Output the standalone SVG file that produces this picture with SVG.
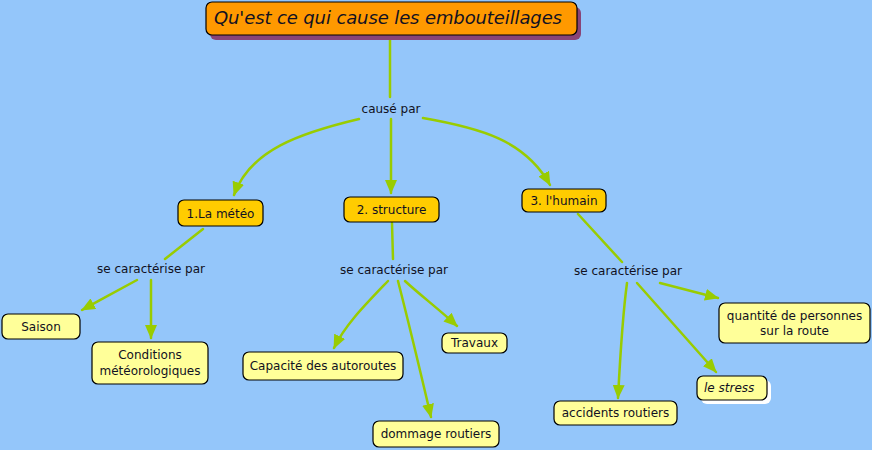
<svg xmlns="http://www.w3.org/2000/svg" width="872" height="450" viewBox="0 0 872 450">
<defs>
<marker id="ah" markerUnits="userSpaceOnUse" markerWidth="14" markerHeight="12" refX="13" refY="6" orient="auto">
<path d="M0,0 L14,6 L0,12 z" fill="#99CC00"/>
</marker>
<style>
text{font-family:"DejaVu Sans","Liberation Sans",sans-serif;font-size:12px;fill:#111122}
.c{fill:none;stroke:#99CC00;stroke-width:2.5;stroke-linecap:round}
.a{marker-end:url(#ah)}
.y{fill:#FFFF99;stroke:#000;stroke-width:1.2}
.o{fill:#FFCC00;stroke:#000;stroke-width:1.2}
.m{text-anchor:middle}
</style>
</defs>
<rect width="872" height="450" fill="#94C6FA"/>
<g id="connectors">
<path class="c" d="M390,35 L390,97"/>
<path class="c a" d="M359,119 C300,133 250,150 234,195"/>
<path class="c a" d="M391,119 L391,193"/>
<path class="c a" d="M423,118 C480,128 525,140 550,185"/>
<path class="c" d="M203,229 L165,259"/>
<path class="c a" d="M137,280 C115,292 100,300 82,310"/>
<path class="c a" d="M151,280 L151,338"/>
<path class="c" d="M392,223 L393,259"/>
<path class="c a" d="M388,281 C365,305 345,325 334,348"/>
<path class="c a" d="M398,281 C408,320 420,370 431,417"/>
<path class="c a" d="M405,281 C420,295 440,310 457,326"/>
<path class="c" d="M578,214 L622,262"/>
<path class="c a" d="M660,283 L718,298"/>
<path class="c a" d="M637,283 L716,372"/>
<path class="c a" d="M627,283 C622,320 620,360 618,398"/>
</g>
<g id="title">
<rect x="210" y="7" width="371" height="33" rx="6" fill="#884477"/>
<rect x="206" y="2" width="371" height="33" rx="6" fill="#FF9900" stroke="#000" stroke-width="1.2"/>
<text x="214" y="24" style="font-size:18px;font-style:italic" textLength="348">Qu'est ce qui cause les embouteillages</text>
</g>
<g id="cause"><text class="m" x="391" y="113">causé par</text></g>
<g id="meteo">
<rect class="o" x="178" y="200" width="85" height="26" rx="6"/>
<text class="m" x="220.5" y="218">1.La météo</text>
</g>
<g id="structure">
<rect class="o" x="344" y="197" width="95" height="25" rx="6"/>
<text class="m" x="391.5" y="214">2. structure</text>
</g>
<g id="humain">
<rect class="o" x="522" y="189" width="84" height="23" rx="6"/>
<text class="m" x="564" y="205">3. l'humain</text>
</g>
<g id="car1"><text class="m" x="151" y="273">se caractérise par</text></g>
<g id="car2"><text class="m" x="394" y="274">se caractérise par</text></g>
<g id="car3"><text class="m" x="628" y="275">se caractérise par</text></g>
<g id="saison">
<rect class="y" x="2" y="314" width="78" height="25" rx="6"/>
<text class="m" x="41" y="331">Saison</text>
</g>
<g id="conditions">
<rect class="y" x="92" y="342" width="116" height="42" rx="6"/>
<text class="m" x="150" y="359">Conditions</text>
<text class="m" x="150" y="375">météorologiques</text>
</g>
<g id="capacite">
<rect class="y" x="243" y="352" width="160" height="28" rx="6"/>
<text class="m" x="323" y="370">Capacité des autoroutes</text>
</g>
<g id="travaux">
<rect class="y" x="442" y="333" width="65" height="20" rx="6"/>
<text class="m" x="474.5" y="347">Travaux</text>
</g>
<g id="dommage">
<rect class="y" x="373" y="421" width="126" height="26" rx="6"/>
<text class="m" x="436" y="438">dommage routiers</text>
</g>
<g id="quantite">
<rect class="y" x="719" y="303" width="151" height="40" rx="6"/>
<text class="m" x="794.5" y="320">quantité de personnes</text>
<text class="m" x="794.5" y="335">sur la route</text>
</g>
<g id="stress">
<rect x="701" y="380" width="70" height="24" rx="6" fill="#FFFFFF"/>
<rect class="y" x="697" y="376" width="70" height="24" rx="6"/>
<text x="704" y="392" style="font-style:italic">le stress</text>
</g>
<g id="accidents">
<rect class="y" x="554" y="401" width="123" height="24" rx="6"/>
<text class="m" x="615.5" y="417">accidents routiers</text>
</g>
</svg>
